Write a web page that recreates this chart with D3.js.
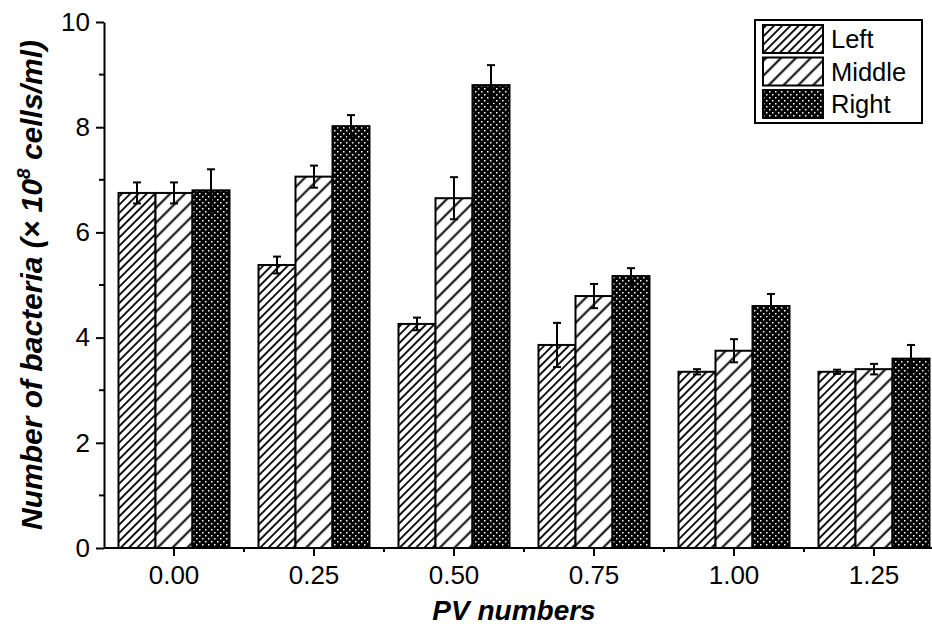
<!DOCTYPE html>
<html>
<head>
<meta charset="utf-8">
<script src="https://cdn.jsdelivr.net/npm/d3@7"></script>
<style>
  body { margin: 0; background: #fff; }
  text { font-family: "Liberation Sans", Arial, sans-serif; fill: #000; }
</style>
</head>
<body>
<div id="chart"></div>
<script>
const categories = ["0.00", "0.25", "0.50", "0.75", "1.00", "1.25"];
const seriesNames = ["Left", "Middle", "Right"];
const leftValues = [6.75, 5.38, 4.26, 3.86, 3.35, 3.35];
const leftErrors = [0.2, 0.16, 0.12, 0.42, 0.05, 0.04];
const middleValues = [6.75, 7.06, 6.65, 4.79, 3.75, 3.4];
const middleErrors = [0.2, 0.21, 0.4, 0.23, 0.22, 0.1];
const rightValues = [6.8, 8.02, 8.8, 5.17, 4.6, 3.6];
const rightErrors = [0.4, 0.21, 0.38, 0.15, 0.23, 0.26];
const yTicks = [0, 2, 4, 6, 8, 10];
const yMinorTicks = [1, 3, 5, 7, 9];

const svgWidth = 932;
const svgHeight = 636;

const svg = d3.select("#chart")
  .append("svg")
  .attr("width", svgWidth)
  .attr("height", svgHeight);

svg.append("rect").attr("width", svgWidth).attr("height", svgHeight).attr("fill", "#fff");

// patterns
const defs = svg.append("defs");

function stripes(id, gap, sw) {
  const p = defs.append("pattern")
    .attr("id", id)
    .attr("patternUnits", "userSpaceOnUse")
    .attr("width", gap)
    .attr("height", gap)
    .attr("patternTransform", "rotate(45)");
  p.append("rect").attr("width", gap).attr("height", gap).attr("fill", "#fff");
  p.append("line")
    .attr("x1", gap / 2).attr("x2", gap / 2)
    .attr("y1", 0).attr("y2", gap)
    .attr("stroke", "#000")
    .attr("stroke-width", sw);
}
stripes("pat-left", 5.8, 1.8);
stripes("pat-middle", 10.5, 2);

const dots = defs.append("pattern")
  .attr("id", "pat-right")
  .attr("patternUnits", "userSpaceOnUse")
  .attr("width", 6)
  .attr("height", 6);
dots.append("rect").attr("width", 6).attr("height", 6).attr("fill", "#000");
[[1, 1], [4, 4]].forEach(([dx, dy]) => {
  dots.append("rect").attr("x", dx).attr("y", dy).attr("width", 1.5).attr("height", 1.5).attr("fill", "#fff");
});

const fills = ["url(#pat-left)", "url(#pat-middle)", "url(#pat-right)"];

// scales
const x0 = d3.scaleBand()
  .domain(categories)
  .range([104, 944]);

const x1 = d3.scaleBand()
  .domain(seriesNames)
  .range([0, 111]);

const y = d3.scaleLinear()
  .domain([0, 10])
  .range([548, 22]);

// bars
const seriesData = [
  { name: "Left", values: leftValues, errors: leftErrors },
  { name: "Middle", values: middleValues, errors: middleErrors },
  { name: "Right", values: rightValues, errors: rightErrors }
];

const groupOffset = (x0.bandwidth() - 111) / 2;

seriesData.forEach((s, si) => {
  const g = svg.append("g");
  const rows = categories.map((c, i) => ({ cat: c, v: s.values[i], e: s.errors[i] }));
  g.selectAll("rect")
    .data(rows)
    .enter()
    .append("rect")
    .attr("x", d => x0(d.cat) + groupOffset + x1(s.name))
    .attr("y", d => y(d.v))
    .attr("width", x1.bandwidth())
    .attr("height", d => y(0) - y(d.v))
    .attr("fill", fills[si])
    .attr("stroke", "#000")
    .attr("stroke-width", 2);
});

// error bars on top
seriesData.forEach(s => {
  const g = svg.append("g").attr("stroke", "#000").attr("stroke-width", 2);
  categories.forEach((c, i) => {
    const cx = x0(c) + groupOffset + x1(s.name) + x1.bandwidth() / 2;
    const lo = y(s.values[i] - s.errors[i]);
    const hi = y(s.values[i] + s.errors[i]);
    g.append("line").attr("x1", cx).attr("x2", cx).attr("y1", lo).attr("y2", hi);
    g.append("line").attr("x1", cx - 4).attr("x2", cx + 4).attr("y1", hi).attr("y2", hi);
    g.append("line").attr("x1", cx - 4).attr("x2", cx + 4).attr("y1", lo).attr("y2", lo);
  });
});

// y axis
const yAxis = svg.append("g")
  .attr("transform", "translate(104,0)")
  .call(d3.axisLeft(y).tickValues(yTicks).tickFormat(d3.format("d")).tickSize(8).tickSizeOuter(0).tickPadding(6));
yAxis.select(".domain").attr("stroke-width", 2);
yAxis.selectAll(".tick line").attr("stroke-width", 2);
yAxis.selectAll(".tick text").style("font-size", "26px").style("font-family", "Liberation Sans, Arial, sans-serif");

yAxis.selectAll(".minor")
  .data(yMinorTicks)
  .enter()
  .append("line")
  .attr("class", "minor")
  .attr("x1", -5).attr("x2", 0)
  .attr("y1", d => y(d)).attr("y2", d => y(d))
  .attr("stroke", "#000").attr("stroke-width", 2);

// x axis
const xAxis = svg.append("g")
  .attr("transform", "translate(0,548)")
  .call(d3.axisBottom(x0).tickSize(8).tickSizeOuter(0).tickPadding(10));
xAxis.select(".domain").attr("d", "M104,0H932").attr("stroke-width", 2);
xAxis.selectAll(".tick line").attr("stroke-width", 2);
xAxis.selectAll(".tick text").style("font-size", "26px").style("font-family", "Liberation Sans, Arial, sans-serif");

xAxis.selectAll(".minor")
  .data(categories.slice(0, -1))
  .enter()
  .append("line")
  .attr("class", "minor")
  .attr("x1", d => x0(d) + x0.bandwidth()).attr("x2", d => x0(d) + x0.bandwidth())
  .attr("y1", 0).attr("y2", 4)
  .attr("stroke", "#000").attr("stroke-width", 2);

// axis titles
svg.append("text")
  .attr("x", 514)
  .attr("y", 620)
  .attr("text-anchor", "middle")
  .style("font-size", "28px")
  .style("font-weight", "bold")
  .style("font-style", "italic")
  .text("PV numbers");

const yTitle = svg.append("text")
  .attr("transform", "translate(42,285) rotate(-90)")
  .attr("text-anchor", "middle")
  .style("font-size", "30px")
  .style("font-weight", "bold")
  .style("font-style", "italic");
yTitle.append("tspan").text("Number of bacteria (\u00d7 10");
yTitle.append("tspan").attr("dy", -12).style("font-size", "19px").text("8");
yTitle.append("tspan").attr("dy", 12).text(" cells/ml)");

// legend
const legend = svg.append("g");
legend.append("rect")
  .attr("x", 755).attr("y", 20)
  .attr("width", 167).attr("height", 103)
  .attr("fill", "#fff")
  .attr("stroke", "#000")
  .attr("stroke-width", 2);

seriesNames.forEach((name, i) => {
  const top = 25 + i * 32.5;
  legend.append("rect")
    .attr("x", 763).attr("y", top)
    .attr("width", 60).attr("height", 28)
    .attr("fill", fills[i])
    .attr("stroke", "#000")
    .attr("stroke-width", 2);
  legend.append("text")
    .attr("x", 831)
    .attr("y", top + 23)
    .style("font-size", "25.5px")
    .text(name);
});
</script>
</body>
</html>
